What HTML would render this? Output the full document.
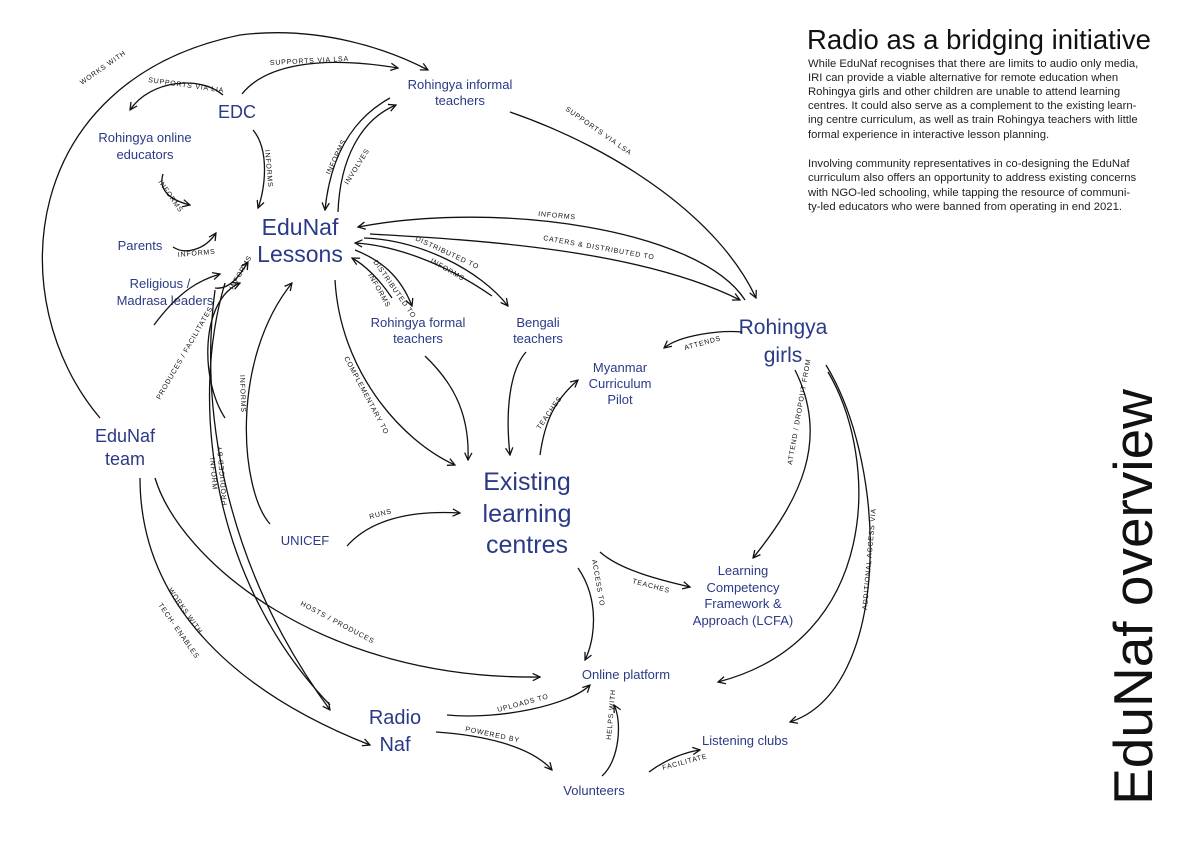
<!DOCTYPE html>
<html><head><meta charset="utf-8"><style>
html,body{margin:0;padding:0;background:#fff;}
svg{display:block;}
.n{font-family:"Liberation Sans",sans-serif;fill:#2b3a86;text-anchor:middle;}
.l{font-family:"Liberation Sans",sans-serif;font-size:7px;fill:#111;letter-spacing:0.8px;}
.e{fill:none;stroke:#111;stroke-width:1.3;}
.p{font-family:"Liberation Sans",sans-serif;font-size:11.3px;fill:#222;}
</style></head><body>
<svg width="1190" height="841" viewBox="0 0 1190 841" xmlns="http://www.w3.org/2000/svg">
<defs><marker id="a" viewBox="0 0 10 10" refX="9" refY="5" markerWidth="7" markerHeight="7" orient="auto-start-reverse"><path d="M1 1 L9 5 L1 9" fill="none" stroke="#111" stroke-width="1.4"/></marker></defs>

<text x="807" y="49" font-family="Liberation Sans,sans-serif" font-size="27.5" fill="#111">Radio as a bridging initiative</text>
<g class="p">
<text x="808" y="67">While EduNaf recognises that there are limits to audio only media,</text>
<text x="808" y="81">IRI can provide a viable alternative for remote education when</text>
<text x="808" y="95">Rohingya girls and other children are unable to attend learning</text>
<text x="808" y="109">centres. It could also serve as a complement to the existing learn-</text>
<text x="808" y="123">ing centre curriculum, as well as train Rohingya teachers with little</text>
<text x="808" y="138">formal experience in interactive lesson planning.</text>
<text x="808" y="167">Involving community representatives in co-designing the EduNaf</text>
<text x="808" y="181">curriculum also offers an opportunity to address existing concerns</text>
<text x="808" y="196">with NGO-led schooling, while tapping the resource of communi-</text>
<text x="808" y="210">ty-led educators who were banned from operating in end 2021.</text>
</g>
<text transform="translate(1152,597) rotate(-90)" text-anchor="middle" font-family="Liberation Sans,sans-serif" font-size="55" fill="#111">EduNaf overview</text>

<g class="n">
<text x="237" y="118" font-size="18">EDC</text>
<text x="460" y="89" font-size="13">Rohingya informal</text><text x="460" y="105" font-size="13">teachers</text>
<text x="145" y="142" font-size="13">Rohingya online</text><text x="145" y="159" font-size="13">educators</text>
<text x="300" y="235" font-size="23">EduNaf</text><text x="300" y="262" font-size="23">Lessons</text>
<text x="140" y="250" font-size="13">Parents</text>
<text x="160" y="288" font-size="13">Religious /</text><text x="165" y="305" font-size="13">Madrasa leaders</text>
<text x="418" y="327" font-size="13">Rohingya formal</text><text x="418" y="343" font-size="13">teachers</text>
<text x="538" y="327" font-size="13">Bengali</text><text x="538" y="343" font-size="13">teachers</text>
<text x="783" y="334" font-size="21">Rohingya</text><text x="783" y="362" font-size="21">girls</text>
<text x="620" y="372" font-size="13">Myanmar</text><text x="620" y="388" font-size="13">Curriculum</text><text x="620" y="404" font-size="13">Pilot</text>
<text x="125" y="442" font-size="18">EduNaf</text><text x="125" y="465" font-size="18">team</text>
<text x="527" y="490" font-size="25">Existing</text><text x="527" y="522" font-size="25">learning</text><text x="527" y="553" font-size="25">centres</text>
<text x="305" y="545" font-size="13">UNICEF</text>
<text x="743" y="575" font-size="13">Learning</text><text x="743" y="592" font-size="13">Competency</text><text x="743" y="608" font-size="13">Framework &amp;</text><text x="743" y="625" font-size="13">Approach (LCFA)</text>
<text x="626" y="679" font-size="13">Online platform</text>
<text x="395" y="724" font-size="20">Radio</text><text x="395" y="751" font-size="20">Naf</text>
<text x="745" y="745" font-size="13">Listening clubs</text>
<text x="594" y="795" font-size="13">Volunteers</text>
</g>

<g class="e" marker-end="url(#a)">
<path d="M100 418 C 0 300, 20 80, 240 35 C 320 25, 390 50, 428 70"/>
<path d="M223 95 C 200 75, 150 80, 130 110"/>
<path d="M242 94 C 265 65, 320 55, 398 68"/>
<path d="M163 174 C 158 190, 170 200, 190 205"/>
<path d="M253 130 C 270 150, 265 190, 258 208"/>
<path d="M390 98 C 350 120, 330 160, 325 210"/>
<path d="M338 212 C 340 160, 360 120, 396 105"/>
<path d="M510 112 C 620 150, 720 220, 756 298"/>
<path d="M173 247 C 185 255, 205 250, 216 233"/>
<path d="M215 288 C 230 290, 240 275, 248 262"/>
<path d="M745 300 C 700 230, 500 200, 358 227"/>
<path d="M370 234 C 480 240, 640 250, 740 300"/>
<path d="M364 238 C 420 240, 480 270, 508 306"/>
<path d="M492 296 C 440 260, 390 245, 355 243"/>
<path d="M355 250 C 380 260, 400 275, 412 306"/>
<path d="M392 298 C 380 280, 365 265, 352 258"/>
<path d="M335 280 C 340 370, 400 440, 455 465"/>
<path d="M425 356 C 450 380, 470 410, 468 460"/>
<path d="M526 352 C 510 370, 505 410, 510 455"/>
<path d="M540 455 C 545 420, 555 400, 578 380"/>
<path d="M742 332 C 720 330, 680 335, 664 348"/>
<path d="M795 370 C 830 440, 800 500, 753 558"/>
<path d="M828 372 C 880 460, 880 640, 718 682"/>
<path d="M826 365 C 890 470, 890 690, 790 722"/>
<path d="M154 325 C 180 290, 200 280, 220 274"/>
<path d="M225 418 C 200 380, 200 300, 240 283"/>
<path d="M270 524 C 240 490, 230 360, 292 283"/>
<path d="M215 290 C 200 400, 220 560, 330 710"/>
<path d="M347 546 C 370 520, 410 510, 460 513"/>
<path d="M600 552 C 620 570, 660 580, 690 587"/>
<path d="M578 568 C 600 600, 595 640, 585 660"/>
<path d="M155 478 C 180 560, 320 680, 540 677"/>
<path d="M140 478 C 140 600, 230 690, 370 745"/>
<path d="M447 715 C 500 720, 570 705, 590 685"/>
<path d="M436 732 C 480 735, 530 745, 552 770"/>
<path d="M602 776 C 620 760, 622 720, 614 705"/>
<path d="M649 772 C 665 760, 685 752, 700 750"/>
</g>
<path class="e" d="M225 283 C 190 400, 210 580, 330 705"/>

<g class="l">
<text transform="translate(82,85) rotate(-35)">WORKS WITH</text>
<text transform="translate(148,82) rotate(8)">SUPPORTS VIA LIA</text>
<text transform="translate(270,65) rotate(-3)">SUPPORTS VIA LSA</text>
<text transform="translate(158,182) rotate(55)">INFORMS</text>
<text transform="translate(265,150) rotate(85)">INFORMS</text>
<text transform="translate(330,175) rotate(-65)">INFORMS</text>
<text transform="translate(348,185) rotate(-58)">INVOLVES</text>
<text transform="translate(178,257) rotate(-5)">INFORMS</text>
<text transform="translate(233,290) rotate(-60)">INFORMS</text>
<text transform="translate(538,216) rotate(5)">INFORMS</text>
<text transform="translate(543,240) rotate(10)">CATERS &amp; DISTRIBUTED TO</text>
<text transform="translate(415,240) rotate(25)">DISTRIBUTED TO</text>
<text transform="translate(430,262) rotate(30)">INFORMS</text>
<text transform="translate(373,262) rotate(55)">DISTRIBUTED TO</text>
<text transform="translate(368,275) rotate(60)">INFORMS</text>
<text transform="translate(344,358) rotate(62)">COMPLEMENTARY TO</text>
<text transform="translate(540,430) rotate(-55)">TEACHES</text>
<text transform="translate(685,350) rotate(-15)">ATTENDS</text>
<text transform="translate(792,465) rotate(-80)">ATTEND / DROPOUT FROM</text>
<text transform="translate(867,610) rotate(-85)">ADDITIONAL ACCESS VIA</text>
<text transform="translate(160,400) rotate(-60)">PRODUCES / FACILITATES</text>
<text transform="translate(240,375) rotate(88)">INFORMS</text>
<text transform="translate(227,505) rotate(-95)">PRODUCED BY</text>
<text transform="translate(210,458) rotate(85)">INFORM</text>
<text transform="translate(370,519) rotate(-15)">RUNS</text>
<text transform="translate(592,560) rotate(80)">ACCESS TO</text>
<text transform="translate(632,583) rotate(15)">TEACHES</text>
<text transform="translate(300,605) rotate(28)">HOSTS / PRODUCES</text>
<text transform="translate(168,590) rotate(55)">WORKS WITH</text>
<text transform="translate(158,605) rotate(55)">TECH- ENABLES</text>
<text transform="translate(498,712) rotate(-15)">UPLOADS TO</text>
<text transform="translate(465,731) rotate(12)">POWERED BY</text>
<text transform="translate(611,740) rotate(-85)">HELPS WITH</text>
<text transform="translate(663,770) rotate(-15)">FACILITATE</text>
<text transform="translate(565,110) rotate(35)">SUPPORTS VIA LSA</text>
</g>
</svg>
</body></html>
